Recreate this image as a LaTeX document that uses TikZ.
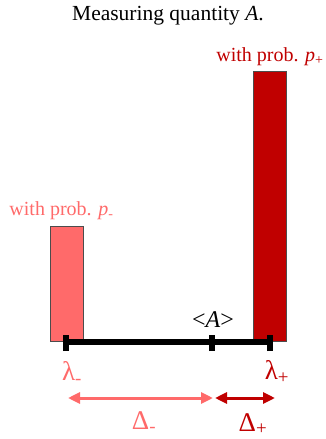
\documentclass[tikz,border=0pt]{standalone}
\usepackage{fontspec}
\setmainfont{Liberation Serif}
\usetikzlibrary{positioning, arrows.meta}

\definecolor{lightred}{RGB}{255,106,106}
\definecolor{darkred}{RGB}{192,0,0}

\begin{document}
\begin{tikzpicture}[
  x=1pt, y=-1pt,
  bar/.style={draw=black!70, line width=0.8pt, minimum width=33pt, inner sep=0pt, anchor=south},
  prob/.style={font=\fontsize{20}{24}\selectfont, inner sep=1pt},
  greek/.style={font=\fontsize{27}{30}\selectfont, inner sep=1pt},
  tickmark/.style={line width=6pt},
  span/.style={line width=3pt, {Triangle[length=12pt,width=11pt]}-{Triangle[length=12pt,width=11pt]}},
  node distance=8pt
]
\useasboundingbox (0,0) rectangle (326,439);

% Title
\node[font=\fontsize{21.5}{24}\selectfont] (title) at (168,16) {Measuring quantity \textit{A}.};

% Bars
\node[bar, fill=lightred, minimum height=115pt] (pminus) at (66.5,342) {};
\node[bar, fill=darkred, minimum height=270pt] (pplus) at (270,342) {};

% Probability labels
\node[prob, text=lightred, above=5pt of pminus.north, xshift=-5pt] (lminus) {with prob. \textit{p}\textsubscript{-}};
\node[prob, text=darkred, above=4pt of pplus.north] (lplus) {with prob. \textit{p}\textsubscript{+}};

% Axis
\coordinate (a) at (66,342);
\coordinate (m) at (212,342);
\coordinate (b) at (270,342);
\draw[line width=6pt] (a) -- (b);
\foreach \t in {a,m,b}
  \draw[tickmark] ([yshift=-9pt]\t) -- ([yshift=7pt]\t);
\node[font=\fontsize{24}{28}\selectfont, anchor=base, inner sep=0pt] (mean) at (213,327) {<\textit{A}>};

% Eigenvalues
\node[greek, text=lightred] (lamminus) at (72,373) {λ\textsubscript{-}};
\node[greek, text=darkred] (lamplus) at (277,372) {λ\textsubscript{+}};

% Spreads
\coordinate (s1) at (68,398);
\coordinate (s2) at (213,398);
\coordinate (s3) at (215,398);
\coordinate (s4) at (275,398);
\draw[span, lightred] (s1) -- (s2);
\draw[span, darkred] (s3) -- (s4);
\node[greek, text=lightred] (dminus) at (144,422) {Δ\textsubscript{-}};
\node[greek, text=darkred] (dplus) at (253,424) {Δ\textsubscript{+}};

\end{tikzpicture}
\end{document}
